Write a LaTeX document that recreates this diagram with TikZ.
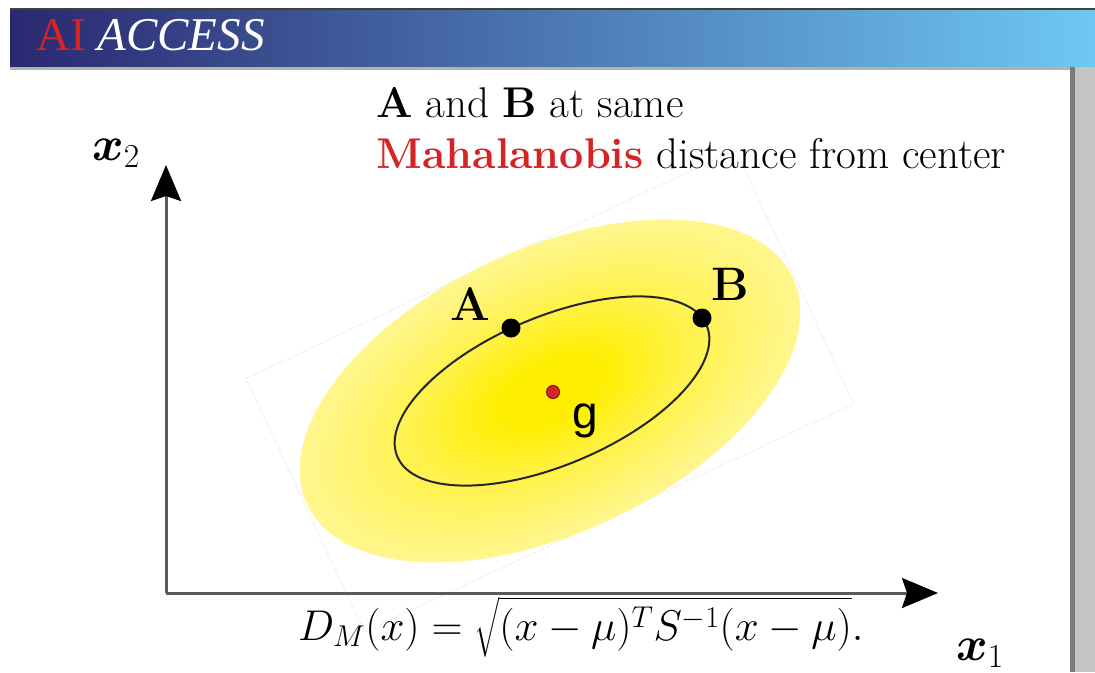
\RequirePackage{fix-cm}
\documentclass[tikz,border=0pt]{standalone}
\usepackage{fontspec}
\usepackage{amsmath}
\usetikzlibrary{arrows.meta}
\newfontfamily\bannerfont{Liberation Serif}
\newfontfamily\gfont{Liberation Sans}
\definecolor{navy}{HTML}{2A2870}
\definecolor{midblue}{HTML}{5468A8}
\definecolor{sky}{HTML}{6EC8F2}
\definecolor{hred}{HTML}{D42424}
\definecolor{axisgray}{HTML}{5A5A5A}
\definecolor{bargray}{HTML}{C4C4C4}
\definecolor{bardark}{HTML}{7A7A7A}
\definecolor{boxline}{HTML}{DCDFEC}
\definecolor{ycore}{HTML}{FFEE00}
\definecolor{ymid}{HTML}{FFF24E}
\definecolor{yedge}{HTML}{FFF68A}
\definecolor{yrim}{HTML}{FFF8A8}
\definecolor{yrim2}{HTML}{FFFAB8}
\definecolor{yfade}{HTML}{FFFEEC}
\pgfdeclareradialshading{yglow}{\pgfpoint{0bp}{0bp}}{color(0bp)=(ycore); color(5bp)=(ycore); color(14bp)=(ymid); color(24bp)=(yedge); color(32bp)=(yrim); color(34.5bp)=(yrim2); color(35.5bp)=(yfade); color(50bp)=(white)}

\begin{document}
\begin{tikzpicture}[x=1pt,y=-1pt,every node/.style={inner sep=0pt},
  big/.style={font=\fontsize{43}{51}\selectfont},
  lbl/.style={font=\bfseries\fontsize{47}{54}\selectfont,anchor=base west},
  axis/.style={line width=3pt,draw=axisgray,-{Stealth[length=36pt,width=30pt,inset=5pt,color=black]}},
  dot/.style={circle,fill=black,minimum size=19pt},
  gdot/.style={circle,fill=hred,draw=hred!60!black,line width=1pt,minimum size=13pt}]
\fill[white] (0,0) rectangle (1095,672);
\useasboundingbox (0,0) rectangle (1095,672);
% banner
\shade[left color=navy,middle color=midblue,right color=sky] (10,9) rectangle (1095,67);
\draw[line width=2pt,black!75] (10,9) -- (1095,9);
\fill[black!30] (10,67) rectangle (1070,70);
\fill[bargray] (1070,67) rectangle (1095,672);
\fill[bardark] (1070,67) rectangle (1075,672);
\node[anchor=base west,font=\bannerfont\fontsize{47}{52}\selectfont] (logo) at (36,50)
  {\textcolor{hred}{AI} \textcolor{white}{\itshape ACCESS}};
% ellipse box and density
\begin{scope}[shift={(550,391)},rotate=25]
\draw[boxline,dotted,line width=1pt] (-270,-140) rectangle (270,140);
\end{scope}
\begin{scope}[transform canvas={shift={(550,391)},rotate=25}]
\shade[shading=yglow] (0,0) ellipse (268 and 142);
\end{scope}
\begin{scope}[shift={(552,391)},rotate=23]
\draw[line width=2pt,black!85] (0,0) ellipse (168 and 74);
\end{scope}
\node[dot] (A) at (511,328) {};
\node[dot] (B) at (702,318) {};
\node[gdot] (g) at (553,392) {};
\node[lbl] (Alab) at (450,320) {A};
\node[lbl] (Blab) at (711,300) {B};
\node[anchor=base west,font=\gfont\fontsize{46}{50}\selectfont] (glab) at (572,428) {g};
% axes
\coordinate (o) at (166,593);
\coordinate (x2tip) at (166,165);
\coordinate (x1tip) at (938,593);
\draw[axis] (o) -- (x2tip);
\draw[axis] (o) -- (x1tip);
\node[anchor=base west,font=\fontsize{48}{56}\selectfont] (x2) at (92,160) {$\boldsymbol{x}_2$};
\node[anchor=base west,font=\fontsize{48}{56}\selectfont] (x1) at (956,660) {$\boldsymbol{x}_1$};
% texts
\node[big,anchor=base west] (t1) at (376,117) {\textbf{A} and \textbf{B} at same};
\node[big,anchor=base west] (t2) at (376,168) {\textcolor{hred}{\textbf{Mahalanobis}} distance from center};
\node[big,anchor=base west] (dm) at (298,640) {$D_M(x)=\sqrt{(x-\mu)^T S^{-1}(x-\mu)}.$};
\end{tikzpicture}
\end{document}
